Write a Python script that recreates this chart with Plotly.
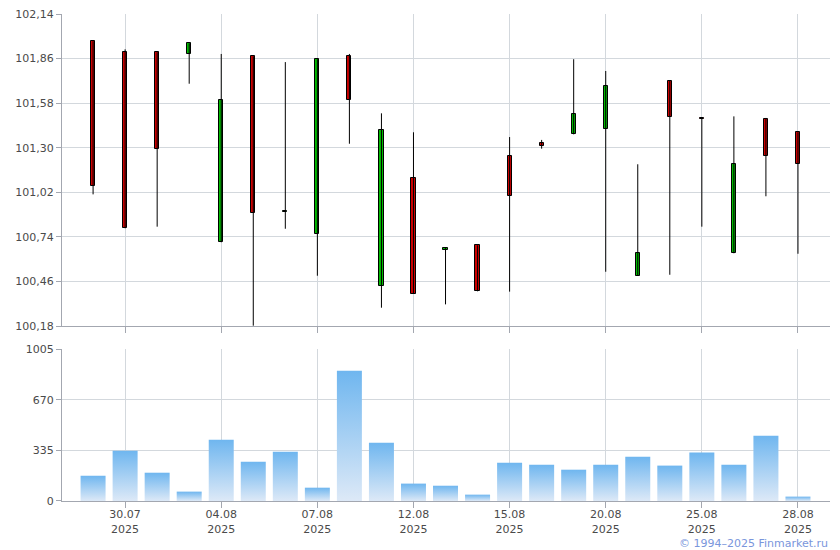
import plotly.graph_objects as go

dates = ["29.07", "30.07", "31.07", "01.08", "04.08", "05.08", "06.08", "07.08",
         "08.08", "11.08", "12.08", "13.08", "14.08", "15.08", "18.08", "19.08",
         "20.08", "21.08", "22.08", "25.08", "26.08", "27.08", "28.08"]
opens = [101.969, 101.900, 101.900, 101.887, 100.706, 101.874, 100.895, 100.756,
         101.874, 100.433, 101.108, 100.655, 100.687, 101.248, 101.328, 101.384,
         101.416, 100.496, 101.719, 101.488, 100.637, 101.478, 101.397]
highs = [101.969, 101.918, 101.900, 101.956, 101.889, 101.874, 101.838, 101.856,
         101.889, 101.516, 101.397, 100.672, 100.687, 101.367, 101.349, 101.856,
         101.782, 101.196, 101.719, 101.488, 101.497, 101.487, 101.397]
lows = [101.007, 100.794, 100.804, 101.702, 100.706, 100.182, 100.791, 100.496,
        101.325, 100.295, 100.383, 100.316, 100.398, 100.396, 101.294, 101.384,
        100.521, 100.496, 100.502, 100.804, 100.637, 100.995, 100.634]
closes = [101.058, 100.794, 101.290, 101.956, 101.598, 100.888, 100.905, 101.856,
          101.598, 101.409, 100.383, 100.672, 100.398, 100.995, 101.313, 101.510,
          101.686, 100.637, 101.495, 101.478, 101.196, 101.246, 101.196]
volumes = [167, 333, 187, 62, 405, 260, 326, 88, 862, 386, 115, 101, 42,
           253, 240, 207, 240, 293, 234, 320, 240, 432, 29]

price_ticks = [100.18, 100.46, 100.74, 101.02, 101.30, 101.58, 101.86, 102.14]
volume_ticks = [0, 335, 670, 1005]
xtick_idx = [1, 4, 7, 10, 13, 16, 19, 22]

UP = "#00bb00"
DOWN = "#cc0000"
GRID = "#d3d8dd"
AXIS = "#a3a7b0"
TXT = "#4a4a4a"
FONT = "Verdana, DejaVu Sans, sans-serif"

n = len(dates)
xs = list(range(n))

fig = go.Figure()

# wicks
wx, wy = [], []
for i in xs:
    wx += [i, i, None]
    wy += [lows[i], highs[i], None]
fig.add_trace(go.Scatter(x=wx, y=wy, mode="lines", line=dict(color="black", width=1),
                         xaxis="x", yaxis="y", hoverinfo="skip", showlegend=False))

# bodies
bases = [min(o, c) for o, c in zip(opens, closes)]
heights = [max(abs(c - o), 0.006) for o, c in zip(opens, closes)]
colors = [UP if c >= o else DOWN for o, c in zip(opens, closes)]
fig.add_trace(go.Bar(x=xs, y=heights, base=bases, width=0.13,
                     marker=dict(color=colors, line=dict(color="black", width=1)),
                     xaxis="x", yaxis="y", hoverinfo="skip", showlegend=False))

# volume bars with vertical gradient
half = 0.39
for i in xs:
    v = volumes[i]
    fig.add_trace(go.Scatter(
        x=[i - half, i + half, i + half, i - half, i - half],
        y=[0, 0, v, v, 0],
        mode="lines", fill="toself", line=dict(width=0, color="rgba(0,0,0,0)"),
        fillgradient=dict(type="vertical",
                          colorscale=[[0, "#dde9f7"], [1, "#6fb6ef"]]),
        xaxis="x2", yaxis="y2", hoverinfo="skip", showlegend=False))

xrange = [-0.97, 23.0]
common_x = dict(range=xrange, showgrid=True, gridcolor=GRID, gridwidth=1,
                tickvals=xtick_idx, ticks="outside", ticklen=6, tickcolor=AXIS,
                showline=True, linecolor=AXIS, linewidth=1, zeroline=False,
                fixedrange=True)

fig.update_layout(
    width=840, height=550,
    margin=dict(l=54, r=18, t=6, b=57, autoexpand=False),
    paper_bgcolor="white", plot_bgcolor="white",
    font=dict(family=FONT, size=11, color=TXT),
    showlegend=False,
    bargap=0,
    xaxis=dict(**common_x, anchor="y", showticklabels=False),
    xaxis2=dict(**common_x, anchor="y2", matches="x", ticklabelstandoff=-3,
                ticktext=[f"{dates[i]}<br>2025" for i in xtick_idx]),
    yaxis=dict(domain=[0.3593, 1.0], range=[price_ticks[0], price_ticks[-1]],
               tickvals=price_ticks,
               ticktext=[f"{t:.2f}".replace(".", ",") for t in price_ticks],
               showgrid=True, gridcolor=GRID, showline=True, linecolor=AXIS,
               ticks="outside", ticklen=5, tickcolor=AXIS, zeroline=False,
               ticklabeloverflow="allow", fixedrange=True),
    yaxis2=dict(domain=[0.0, 0.3121], range=[0, 1005],
                tickvals=volume_ticks, ticktext=[str(t) for t in volume_ticks],
                showgrid=True, gridcolor=GRID, showline=True, linecolor=AXIS,
                ticks="outside", ticklen=5, tickcolor=AXIS, zeroline=False,
                ticklabeloverflow="allow", fixedrange=True),
    annotations=[dict(text="© 1994–2025 Finmarket.ru", xref="paper", yref="paper",
                      x=1.0, y=0, xanchor="right", yanchor="top", yshift=-34,
                      showarrow=False,
                      font=dict(family=FONT, size=11, color="#7a96dc"))],
)

fig.write_html("out.html")
